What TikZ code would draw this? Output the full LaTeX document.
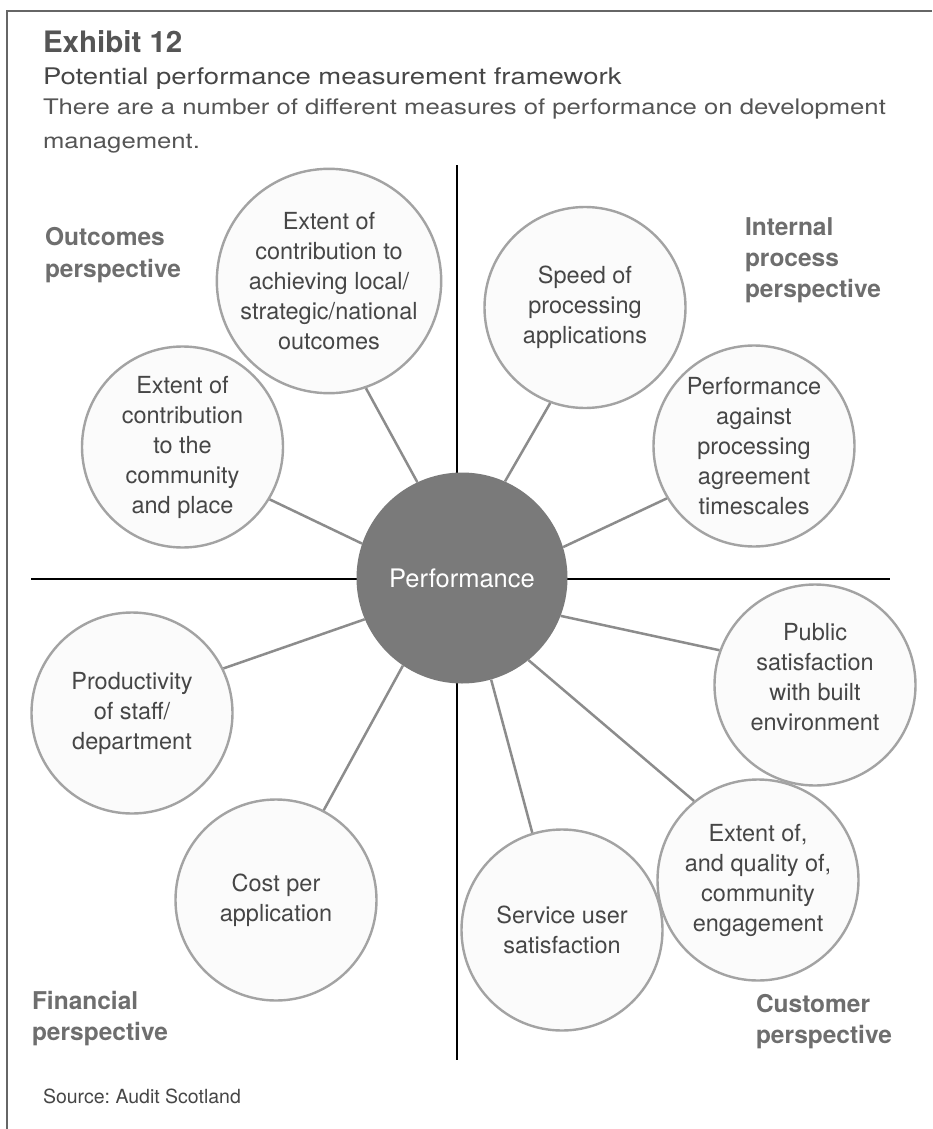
\documentclass[tikz,border=0pt]{standalone}
\usepackage{fontspec}
\setmainfont{TeX Gyre Heros}
\newfontfamily\widefont[FakeStretch=1.2]{TeX Gyre Heros}
\frenchspacing

\definecolor{framegray}{HTML}{666666}
\definecolor{titlegray}{HTML}{555555}
\definecolor{labelgray}{HTML}{6E6E6E}
\definecolor{inkgray}{HTML}{464646}
\definecolor{leadgray}{HTML}{555555}
\definecolor{hubgray}{HTML}{7A7A7A}
\definecolor{ringgray}{HTML}{A3A3A3}
\definecolor{linkgray}{HTML}{8C8C8C}
\definecolor{ringfill}{HTML}{FBFBFB}

\tikzset{
  textline/.style={anchor=base west, inner sep=0pt, outer sep=0pt},
  persp/.style={textline, text=labelgray, font=\bfseries\fontsize{24.5}{30}\selectfont},
  measure/.style={circle, draw=ringgray, line width=2.4pt, fill=ringfill,
    minimum size=201pt, inner sep=0pt, align=center, text=inkgray,
    font=\fontsize{23.5}{30}\selectfont},
  hub/.style={circle, fill=hubgray, minimum size=211pt, inner sep=0pt,
    text=white, font=\fontsize{25.5}{30}\selectfont},
  link/.style={draw=linkgray, line width=2.5pt},
  axis/.style={draw=black, line width=2.5pt},
  frameline/.style={draw=framegray, line width=2.5pt},
}

\begin{document}
\begin{tikzpicture}[x=1pt,y=-1pt]
\useasboundingbox (0,0) rectangle (932,1129);
\fill[white] (0,0) rectangle (932,1129);

% open frame: top and left rules
\coordinate (frameTR) at (932,11);
\coordinate (frameTL) at (7,11);
\coordinate (frameBL) at (7,1129);
\draw[frameline] (frameTR) -- (frameTL) -- (frameBL);

% heading
\node[textline, text=titlegray, font=\bfseries\fontsize{29.5}{34}\selectfont] (title) at (43,53) {Exhibit 12};
\node[textline, text=inkgray, font=\widefont\fontsize{22.9}{30}\selectfont] (subtitle) at (43,85) {Potential performance measurement framework};
\node[textline, text=leadgray, font=\widefont\fontsize{21.4}{30}\selectfont] (lead1) at (43,115) {There are a number of different measures of performance on development};
\node[textline, text=leadgray, font=\widefont\fontsize{21.4}{30}\selectfont] (lead2) at (43,148) {management.};

% quadrant axes
\coordinate (axT) at (457,165);
\coordinate (axB) at (457,1060);
\coordinate (axL) at (31,579);
\coordinate (axR) at (890,579);
\draw[axis] (axT) -- (axB);
\draw[axis] (axL) -- (axR);

% perspective labels
\node[persp] (out1) at (45,245) {Outcomes};
\node[persp] (out2) at (45,277) {perspective};
\node[persp] (int1) at (745,235) {Internal};
\node[persp] (int2) at (745,266) {process};
\node[persp] (int3) at (745,297) {perspective};
\node[persp] (fin1) at (32,1009) {Financial};
\node[persp] (fin2) at (32,1040) {perspective};
\node[persp] (cus1) at (756,1012) {Customer};
\node[persp] (cus2) at (756,1043) {perspective};

% centre
\node[hub] (perf) at (462,578) {Performance};

% measures
\node[measure] (m1) at (329,281) {Extent of\\contribution to\\achieving local/\\strategic/national\\outcomes};
\node[measure] (m2) at (182.5,447) {Extent of\\contribution\\to the\\community\\and place};
\node[measure] (m3) at (585,307.5) {Speed of\\processing\\applications};
\node[measure] (m4) at (754,446) {Performance\\against\\processing\\agreement\\timescales};
\node[measure, text depth=16pt] (m5) at (815,685) {Public\\satisfaction\\with built\\environment};
\node[measure] (m6) at (758,880) {Extent of,\\and quality of,\\community\\engagement};
\node[measure] (m7) at (562,930) {Service user\\satisfaction};
\node[measure] (m8) at (276,900) {Cost per\\application};
\node[measure] (m9) at (132,713) {Productivity\\of staff/\\department};

% spokes
\draw[link] (perf.115.3) -- (m1.289);
\draw[link] (perf.161.8) -- (m2.329.8);
\draw[link] (perf.66.9) -- (m3.250.3);
\draw[link] (perf.17.9) -- (m4.211.2);
\draw[link] (perf.339.7) -- (m5.160.1);
\draw[link] (perf.309.7) -- (m6.129.3);
\draw[link] (perf.286.6) -- (m7.107.7);
\draw[link] (perf.236.3) -- (m8.62.4);
\draw[link] (perf.203.5) -- (m9.26.6);

% source
\node[textline, text=inkgray, font=\fontsize{19.5}{24}\selectfont] (source) at (43,1103) {Source: Audit Scotland};
\end{tikzpicture}
\end{document}
